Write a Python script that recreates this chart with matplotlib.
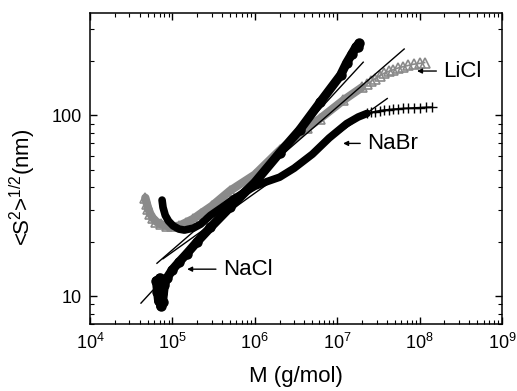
import matplotlib
matplotlib.use("Agg")
import matplotlib.pyplot as plt

plt.rcParams["font.family"] = ["Liberation Sans", "DejaVu Sans"]
plt.rcParams["mathtext.fontset"] = "custom"
plt.rcParams["mathtext.rm"] = "Liberation Sans"
plt.rcParams["mathtext.default"] = "rm"

# NaCl (filled circles)
nacl_M = [6.4e4, 6.6e4, 6.8e4, 7.0e4, 7.2e4, 7.4e4, 7.6e4, 8.0e4, 8.6e4,
          1.0e5, 1.2e5, 1.5e5, 2.0e5, 2.9e5, 5.0e5, 1.0e6, 2.0e6, 3.5e6,
          6.2e6, 1.1e7, 1.3e7, 1.5e7, 1.7e7, 1.85e7, 1.8e7]
nacl_S = [12.2, 10.6, 9.4, 12.6, 8.8, 10.4, 9.3, 11.5, 12.6,
          14.0, 15.4, 17.2, 20.0, 24.0, 31.0, 42.5, 62.0, 83.0,
          118.0, 167.0, 195.0, 218.0, 240.0, 250.0, 240.0]

# NaBr (crosses)
nabr_M = [7.5e4, 7.7e4, 8.2e4, 9.0e4, 1.02e5, 1.2e5, 1.4e5, 1.8e5, 2.2e5,
          2.9e5, 4.0e5, 5.5e5, 7.5e5, 1.0e6, 1.4e6, 2.0e6, 3.0e6, 5.0e6,
          8.0e6, 1.3e7, 1.8e7, 2.3e7, 2.6e7, 2.9e7, 3.3e7, 3.7e7, 4.2e7,
          4.8e7, 5.5e7, 6.3e7, 7.3e7, 8.5e7, 1.0e8, 1.2e8, 1.42e8]
nabr_S = [34.0, 31.0, 28.0, 26.0, 24.5, 23.5, 23.2, 23.8, 25.0,
          28.0, 31.0, 34.5, 37.5, 40.5, 43.0, 45.5, 51.0, 61.0,
          75.0, 90.0, 98.0, 102.5, 104.0, 105.0, 106.2, 107.0, 107.6,
          108.2, 108.7, 109.2, 109.6, 110.0, 110.4, 110.8, 111.0]
nabr_tail = 21  # index where the sparse "+" tail starts

# LiCl (open triangles, gray)
licl_M = [4.7e4, 4.9e4, 5.1e4, 5.4e4, 5.8e4, 6.4e4, 7.2e4, 8.5e4, 1.0e5,
          1.2e5, 1.45e5, 1.8e5, 2.2e5, 3.0e5, 5.0e5, 1.0e6, 2.0e6, 4.3e6,
          6.2e6, 1.18e7, 2.0e7, 2.3e7, 2.6e7, 2.9e7, 3.3e7, 3.7e7, 4.2e7,
          4.8e7, 5.5e7, 6.3e7, 7.3e7, 8.5e7, 1.0e8, 1.15e8]
licl_S = [35.0, 32.5, 30.5, 28.5, 27.0, 25.8, 25.0, 24.5, 24.3,
          24.5, 25.5, 26.8, 28.6, 31.5, 38.3, 47.0, 64.0, 85.0,
          96.0, 121.0, 143.0, 149.0, 155.0, 160.0, 166.0, 171.0, 175.0,
          179.0, 183.0, 186.0, 189.0, 192.0, 194.0, 196.0]
licl_tail = 20

# power-law fit lines (end points)
fit_M = {"NaCl": [4.16e4, 2.07e7], "LiCl": [6.5e4, 6.5e7], "NaBr": [7.7e4, 4.05e7]}
fit_S = {"NaCl": [9.15, 197.0], "LiCl": [15.2, 233.0], "NaBr": [16.1, 124.0]}

# label text anchors and arrow tips
labels = ["LiCl", "NaBr", "NaCl"]
label_M = [1.94e8, 2.31e7, 4.1e5]
label_S = [176.0, 70.0, 14.1]
tip_M = [9.3e7, 1.18e7, 1.51e5]

gray = "#8a8a8a"

fig = plt.figure(figsize=(5.17, 3.91), dpi=100)
ax = fig.add_axes([0.174, 0.171, 0.797, 0.7965])

ax.plot(licl_M[:licl_tail + 1], licl_S[:licl_tail + 1], color=gray, lw=6,
        solid_capstyle="round")
ax.plot(licl_M, licl_S, ls="none", marker="^", ms=7, mfc="none", mec=gray, mew=1.2)
ax.plot(licl_M[licl_tail:], licl_S[licl_tail:], color=gray, lw=1.2)

ax.plot(nabr_M[:nabr_tail + 1], nabr_S[:nabr_tail + 1], color="black", lw=5.5,
        solid_capstyle="round")
ax.plot(nabr_M[nabr_tail:], nabr_S[nabr_tail:], color="black", lw=1.2,
        marker="+", ms=7, mew=1.0)

ax.plot(nacl_M, nacl_S, color="black", lw=6.5, marker="o", ms=6.5,
        solid_capstyle="round")

for k in fit_M:
    ax.plot(fit_M[k], fit_S[k], color="black", lw=1.0)

ax.set_xscale("log")
ax.set_yscale("log")
ax.set_xlim(1e4, 1e9)
ax.set_ylim(7, 370)
ax.set_yticks([10, 100])
ax.set_yticklabels(["10", "100"])

ax.tick_params(which="both", direction="in", top=True, right=True, labelsize=13)
ax.tick_params(which="major", length=5, width=1, pad=6)
ax.tick_params(which="minor", length=3, width=0.8)
for s in ax.spines.values():
    s.set_linewidth(1.1)

ax.set_xlabel("M (g/mol)", fontsize=16, labelpad=10)
ax.set_ylabel(r"<S$^{2}$>$^{1/2}$(nm)", fontsize=16)
ax.yaxis.set_label_coords(-0.125, 0.44)

arrow = dict(arrowstyle="-|>", color="black", lw=1.0, mutation_scale=7,
             shrinkA=3, shrinkB=0)
for txt, lm, ls_, tm in zip(labels, label_M, label_S, tip_M):
    ax.annotate(txt, xy=(tm, ls_), xytext=(lm, ls_), fontsize=16,
                va="center", ha="left", arrowprops=arrow)

fig.savefig("out.png", dpi=100)
